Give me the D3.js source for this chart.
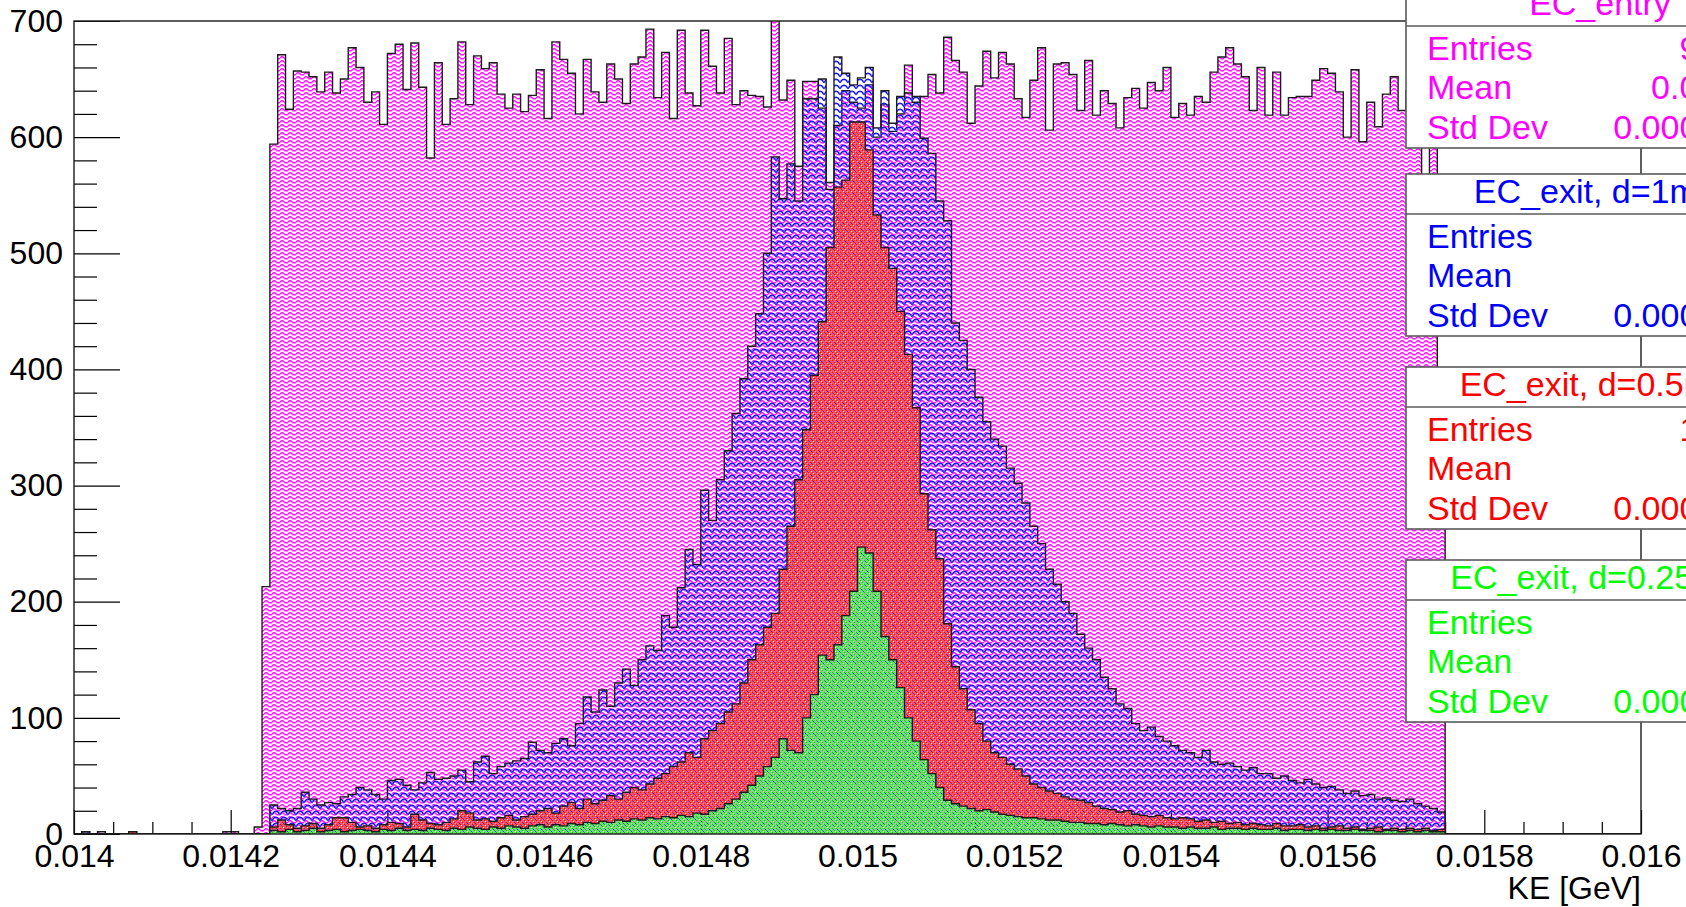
<!DOCTYPE html>
<html>
<head>
<meta charset="utf-8">
<script src="https://cdn.jsdelivr.net/npm/d3@7"></script>
<style>
  html, body { margin: 0; padding: 0; background: #ffffff; }
  svg { display: block; font-family: "Liberation Sans", Arial, Helvetica, sans-serif; }
</style>
</head>
<body>
<svg id="chart" width="1686" height="907"></svg>
<script>
// ---- binning (200 bins of 1e-5 GeV) ----
const binLow = 0.014;
const binHigh = 0.016;
const nBins = 200;

// ---- bin contents, bin 0 .. bin 199 ----
const entryCounts = [
  0,2,0,2,0,0,0,2,0,0,0,0,0,0,0,0,0,0,0,2,2,0,0,6,213,
  594,671,624,657,656,652,639,656,638,650,677,660,630,639,611,672,680,641,681,643,582,664,611,633,682,
  628,670,659,664,637,625,637,622,636,658,616,682,667,655,620,667,639,630,663,650,629,663,669,693,634,
  673,616,692,638,627,692,661,638,685,628,640,636,635,626,712,632,649,575,648,648,625,561,610,640,630,
  625,645,600,628,605,620,662,630,635,654,638,686,666,656,612,644,674,651,673,663,633,617,649,677,606,
  663,664,654,623,666,619,640,629,608,634,642,625,647,640,660,617,629,619,635,630,656,669,677,663,652,
  623,660,619,656,619,634,635,635,649,659,655,639,600,658,596,630,609,637,652,623,640,655,555,640,390,
  0,0,0,0,0,0,0,0,0,0,0,0,0,0,0,0,0,0,0,0,0,0,0,0,0
];
const exit1mmCounts = [
  0,2,0,0,0,0,0,0,0,0,0,0,0,0,0,0,0,0,0,0,0,0,0,0,0,
  25,22,20,22,36,30,25,27,26,32,34,40,38,34,30,46,47,42,38,44,53,47,48,50,55,
  45,62,67,52,58,61,63,65,79,72,70,78,82,76,95,118,105,124,110,130,142,128,150,162,158,
  188,178,212,245,232,296,270,305,330,362,392,420,448,500,583,547,577,545,633,633,650,555,669,655,645,
  651,660,608,640,612,635,638,635,599,586,545,528,440,425,400,376,355,340,334,315,302,285,265,250,228,
  215,200,190,172,160,150,135,125,112,108,95,89,92,84,80,76,72,70,66,72,62,60,61,58,55,
  57,52,52,48,50,46,44,47,43,40,41,38,35,37,33,34,30,31,29,28,30,26,24,22,19,
  0,0,0,0,0,0,0,0,0,0,0,0,0,0,0,0,0,0,0,0,0,0,0,0,0
];
const exit05mmCounts = [
  0,0,0,0,0,0,0,2,0,0,0,0,0,0,0,0,0,0,0,0,0,0,0,0,0,
  6,12,8,5,7,9,5,8,14,14,10,6,7,5,8,10,9,6,17,12,9,8,10,13,20,
  18,12,13,11,14,16,12,15,17,20,22,18,24,27,22,30,26,29,33,30,36,40,38,43,48,
  52,58,62,70,66,82,89,95,105,112,130,150,163,178,190,228,265,305,348,395,441,505,557,563,613,
  613,589,533,505,487,450,413,367,293,262,237,181,144,125,107,95,80,70,66,60,56,50,43,40,37,
  35,32,30,29,27,24,22,21,19,20,17,16,15,16,14,13,14,13,11,12,10,11,9,10,8,
  9,8,7,9,7,7,8,6,7,5,6,7,5,6,4,5,6,4,5,4,5,4,5,3,4,
  0,0,0,0,0,0,0,0,0,0,0,0,0,0,0,0,0,0,0,0,0,0,0,0,0
];
const exit025mmCounts = [
  0,0,0,0,0,0,0,0,0,0,0,0,0,0,0,0,0,0,0,0,0,0,0,0,0,
  3,2,4,2,3,5,2,3,4,2,3,4,3,2,4,3,5,3,4,3,5,4,3,5,4,
  6,5,4,6,5,7,6,5,7,8,6,8,7,9,8,10,9,11,10,12,11,13,12,14,13,
  15,14,16,15,18,17,20,22,26,30,36,42,50,58,66,82,72,70,100,120,154,150,163,188,209,
  247,242,209,170,150,126,100,80,64,52,40,29,26,24,22,20,21,19,17,16,15,14,14,13,12,
  12,11,10,10,9,9,8,9,8,7,8,7,6,7,6,6,5,6,5,5,6,4,5,5,4,
  5,4,4,5,3,4,4,3,4,3,4,3,3,4,3,3,2,3,3,2,3,2,3,2,2,
  0,0,0,0,0,0,0,0,0,0,0,0,0,0,0,0,0,0,0,0,0,0,0,0,0
];

// ---- series names and colours ----
const seriesNames  = ["EC_entry", "EC_exit, d=1mm", "EC_exit, d=0.5mm", "EC_exit, d=0.25mm"];
const seriesColors = ["#ff00ff", "#0000ff", "#ff0000", "#00ff00"];
const seriesFills  = ["fillWave", "fillScale", "fillRed", "fillGreen"];

// ---- statistics box texts (Entries, Mean, Std Dev) per histogram ----
const statLabels  = ["Entries", "Mean", "Std Dev"];
const statEntries = ["97652", "9906", "14873", "4987"];
const statMeans   = ["0.01499", "0.015", "0.015", "0.015"];
const statStdDevs = ["0.0004361", "0.0002395", "0.0001527", "0.0001938"];

// ---- axis ticks ----
const xTickValues = [0.014, 0.0142, 0.0144, 0.0146, 0.0148, 0.015, 0.0152, 0.0154, 0.0156, 0.0158, 0.016];
const xTickLabels = ["0.014", "0.0142", "0.0144", "0.0146", "0.0148", "0.015", "0.0152", "0.0154", "0.0156", "0.0158", "0.016"];
const yTickValues = [0, 100, 200, 300, 400, 500, 600, 700];
const yTickLabels = ["0", "100", "200", "300", "400", "500", "600", "700"];
const xTitle = "KE [GeV]";

// ---------------------------------------------------------------
const svg = d3.select("#chart");
const frame = { left: 74, right: 1641, top: 21, bottom: 834 };

const x = d3.scaleLinear().domain([binLow, binHigh]).range([frame.left, frame.right]);
const y = d3.scaleLinear().domain([0, 700]).range([frame.bottom, frame.top]);
const binWidth = (binHigh - binLow) / nBins;

// hatch-like fill patterns
const defs = svg.append("defs");

const pWave = defs.append("pattern").attr("id", "fillWave")
  .attr("patternUnits", "userSpaceOnUse").attr("width", 8).attr("height", 4);
pWave.append("path").attr("d", "M0,3 C1.3,1.2 2.7,1.2 4,2.6 S6.7,4 8,3")
  .attr("fill", "none").attr("stroke", "#ff9cff").attr("stroke-width", 1.2);
pWave.append("path").attr("d", "M0,2 C1.3,0.2 2.7,0.2 4,1.6 S6.7,3 8,2")
  .attr("fill", "none").attr("stroke", "#ff00ff").attr("stroke-width", 1.1);

const pScale = defs.append("pattern").attr("id", "fillScale")
  .attr("patternUnits", "userSpaceOnUse").attr("width", 8).attr("height", 6);
pScale.append("path").attr("d", "M0,5 Q1,1.5 4,1.5 Q7,1.5 8,5")
  .attr("fill", "none").attr("stroke", "#6a6aff").attr("stroke-width", 1.6);
pScale.append("path").attr("d", "M0.5,4.5 Q1.5,1 4,1 Q6.5,1 7.5,4.5")
  .attr("fill", "none").attr("stroke", "#0000ff").attr("stroke-width", 1);

const pRed = defs.append("pattern").attr("id", "fillRed")
  .attr("patternUnits", "userSpaceOnUse").attr("width", 4).attr("height", 4);
pRed.append("path").attr("d", "M0,0h4v1h-4z M0,1h1v1h-1z M2,1h2v1h-2z M0,2h4v1h-4z M0,3h3v1h-3z")
  .attr("fill", "#f5545f");
pRed.append("rect").attr("x", 0).attr("y", 0).attr("width", 1).attr("height", 1).attr("fill", "#ff0000");
pRed.append("rect").attr("x", 2).attr("y", 2).attr("width", 1).attr("height", 1).attr("fill", "#ff0000");

const pGreen = defs.append("pattern").attr("id", "fillGreen")
  .attr("patternUnits", "userSpaceOnUse").attr("width", 4).attr("height", 4);
pGreen.append("path").attr("d", "M0,0h4v1h-4z M0,1h1v1h-1z M2,1h2v1h-2z M0,2h4v1h-4z M0,3h3v1h-3z")
  .attr("fill", "#66e466");
pGreen.append("rect").attr("x", 0).attr("y", 0).attr("width", 1).attr("height", 1).attr("fill", "#1fbf1f");
pGreen.append("rect").attr("x", 2).attr("y", 2).attr("width", 1).attr("height", 1).attr("fill", "#1fbf1f");

defs.append("clipPath").attr("id", "frameClip")
  .append("rect")
  .attr("x", frame.left).attr("y", frame.top)
  .attr("width", frame.right - frame.left).attr("height", frame.bottom - frame.top);

const plot = svg.append("g").attr("clip-path", "url(#frameClip)");

// step points for a histogram: one point per bin low edge, plus the closing edge
function stepPoints(counts) {
  const pts = counts.map((c, i) => [binLow + i * binWidth, c]);
  pts.push([binHigh, counts[counts.length - 1]]);
  return pts;
}

const area = d3.area()
  .x(d => x(d[0])).y0(y(0)).y1(d => y(d[1]))
  .curve(d3.curveStepAfter);
const line = d3.line()
  .x(d => x(d[0])).y(d => y(d[1]))
  .curve(d3.curveStepAfter);

function drawHist(counts, fillId, group) {
  const pts = stepPoints(counts);
  group.append("path").datum(pts)
    .attr("d", area).attr("fill", `url(#${fillId})`).attr("stroke", "none");
  const outline = [[binLow, 0]].concat(pts).concat([[binHigh, 0]]);
  group.append("path").datum(outline)
    .attr("d", line).attr("fill", "none")
    .attr("stroke", "#1c1c1c").attr("stroke-width", 1.4)
    .attr("stroke-linejoin", "miter");
}

const allCounts = [entryCounts, exit1mmCounts, exit05mmCounts, exit025mmCounts];

// first histogram, then its axes, then the overlaid ones
drawHist(entryCounts, seriesFills[0], plot);

// ---- axes ----
const axesG = svg.append("g");
const xMinor = d3.range(0, 41).map(i => binLow + i * 0.00005)
  .filter((v, i) => i % 4 !== 0);
const yMinor = d3.range(0, 36).map(i => i * 20).filter(v => v % 100 !== 0);

const xAxis = d3.axisBottom(x).tickValues(xTickValues)
  .tickFormat((d, i) => xTickLabels[i]).tickSize(-24).tickPadding(10);
const xAxisMinor = d3.axisBottom(x).tickValues(xMinor).tickFormat("").tickSize(-12);
const yAxis = d3.axisLeft(y).tickValues(yTickValues)
  .tickFormat((d, i) => yTickLabels[i]).tickSize(-46).tickPadding(11);
const yAxisMinor = d3.axisLeft(y).tickValues(yMinor).tickFormat("").tickSize(-23);

function styleAxis(g) {
  g.select(".domain").remove();
  g.selectAll("line").attr("stroke", "#000").attr("stroke-width", 1.2);
  g.selectAll("text").attr("fill", "#000").attr("font-size", 32)
    .attr("font-family", '"Liberation Sans", Arial, Helvetica, sans-serif');
}
axesG.append("g").attr("transform", `translate(0,${frame.bottom})`).call(xAxis).call(styleAxis);
axesG.append("g").attr("transform", `translate(0,${frame.bottom})`).call(xAxisMinor).call(styleAxis);
axesG.append("g").attr("transform", `translate(${frame.left},0)`).call(yAxis).call(styleAxis);
axesG.append("g").attr("transform", `translate(${frame.left},0)`).call(yAxisMinor).call(styleAxis);

// overlaid histograms
const plot2 = svg.append("g").attr("clip-path", "url(#frameClip)");
for (let s = 1; s < 4; s++) drawHist(allCounts[s], seriesFills[s], plot2);

// frame
svg.append("rect")
  .attr("x", frame.left).attr("y", frame.top)
  .attr("width", frame.right - frame.left).attr("height", frame.bottom - frame.top)
  .attr("fill", "none").attr("stroke", "#1a1a1a").attr("stroke-width", 1.4);

// axis title
svg.append("text")
  .attr("x", frame.right).attr("y", 899)
  .attr("text-anchor", "end").attr("font-size", 32).attr("fill", "#000")
  .text(xTitle);

// ---- statistics boxes ----
const boxLeft = 1406, boxRight = 1794, boxH = 162, headH = 40;
const boxTops = [-14, 174, 367, 560];
const statsG = svg.append("g");
seriesNames.forEach((name, s) => {
  const top = boxTops[s];
  const g = statsG.append("g");
  g.append("rect")
    .attr("x", boxLeft).attr("y", top).attr("width", boxRight - boxLeft).attr("height", boxH)
    .attr("fill", "#fff").attr("stroke", "#5a5a5a").attr("stroke-width", 1.6);
  g.append("line")
    .attr("x1", boxLeft).attr("x2", boxRight).attr("y1", top + headH).attr("y2", top + headH)
    .attr("stroke", "#5a5a5a").attr("stroke-width", 1.6);
  g.append("text")
    .attr("x", (boxLeft + boxRight) / 2).attr("y", top + 29)
    .attr("text-anchor", "middle").attr("font-size", 34).attr("fill", seriesColors[s])
    .text(name);
  const vals = [statEntries[s], statMeans[s], statStdDevs[s]];
  const rowY = [74, 113, 153];
  statLabels.forEach((lab, r) => {
    g.append("text").attr("x", 1427).attr("y", top + rowY[r])
      .attr("font-size", 34).attr("fill", seriesColors[s]).text(lab);
    g.append("text").attr("x", 1774).attr("y", top + rowY[r])
      .attr("text-anchor", "end").attr("font-size", 34).attr("fill", seriesColors[s]).text(vals[r]);
  });
});
</script>
</body>
</html>
